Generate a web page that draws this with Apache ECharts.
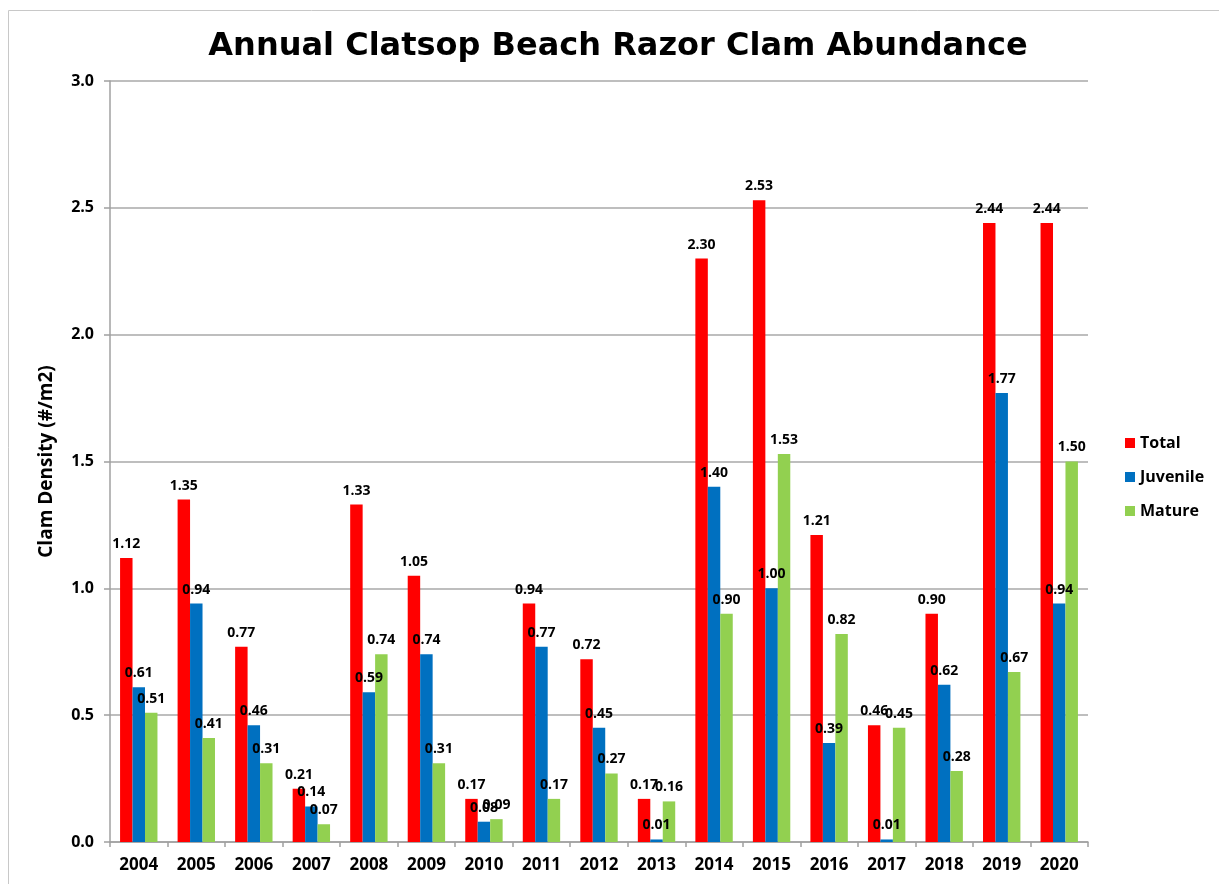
<!DOCTYPE html>
<html lang="en">
<head>
    <title>Annual Clatsop Beach Razor Clam Abundance</title>
    <meta charset="utf-8" />
    <script src="https://cdn.jsdelivr.net/npm/echarts@6/dist/echarts.min.js"></script>
    <style>
        html, body {
            margin: 0;
            padding: 0;
            background-color: #ffffff;
        }
        #main {
            width: 1219px;
            height: 884px;
        }
    </style>
</head>
<body>
<div id="main"></div>
<script>
    let years = ['2004', '2005', '2006', '2007', '2008', '2009', '2010', '2011', '2012',
        '2013', '2014', '2015', '2016', '2017', '2018', '2019', '2020']
    let total = [1.12, 1.35, 0.77, 0.21, 1.33, 1.05, 0.17, 0.94, 0.72, 0.17, 2.30, 2.53, 1.21, 0.46, 0.90, 2.44, 2.44]
    let juvenile = [0.61, 0.94, 0.46, 0.14, 0.59, 0.74, 0.08, 0.77, 0.45, 0.01, 1.40, 1.00, 0.39, 0.01, 0.62, 1.77, 0.94]
    let mature = [0.51, 0.41, 0.31, 0.07, 0.74, 0.31, 0.09, 0.17, 0.27, 0.16, 0.90, 1.53, 0.82, 0.45, 0.28, 0.67, 1.50]

    let titleFont = '"DejaVu Sans", Verdana, sans-serif'
    let textFont = '"Open Sans", "Noto Sans", sans-serif'

    let chart = echarts.init(document.getElementById('main'))

    function makeSeries(name, color, data) {
        return {
            name: name,
            type: 'bar',
            barGap: 0,
            barCategoryGap: '35%',
            itemStyle: {
                color: color
            },
            label: {
                show: true,
                position: 'top',
                distance: 7,
                fontFamily: textFont,
                fontWeight: 'bold',
                fontSize: 14,
                color: '#000',
                formatter: function (p) {
                    return p.value.toFixed(2)
                }
            },
            data: data
        }
    }

    chart.setOption({
        animation: false,
        textStyle: {
            fontFamily: textFont
        },
        graphic: [
            {
                type: 'rect',
                shape: { x: 8.5, y: 10.5, width: 1230, height: 900 },
                style: { fill: 'none', stroke: '#c8c8c8', lineWidth: 1 },
                silent: true
            }
        ],
        title: {
            text: 'Annual Clatsop Beach Razor Clam Abundance',
            left: 613,
            textAlign: 'center',
            top: 26,
            textStyle: {
                fontFamily: titleFont,
                fontWeight: 'bold',
                fontSize: 32,
                color: '#000'
            }
        },
        legend: {
            orient: 'vertical',
            left: 1120,
            top: 429,
            itemWidth: 10,
            itemHeight: 10,
            itemGap: 16,
            itemStyle: {
                borderWidth: 0
            },
            icon: 'rect',
            textStyle: {
                fontFamily: textFont,
                fontWeight: 'bold',
                fontSize: 16,
                lineHeight: 18,
                color: '#000'
            },
            data: ['Total', 'Juvenile', 'Mature']
        },
        grid: {
            left: 110,
            right: 131,
            top: 81,
            bottom: 42,
            containLabel: false
        },
        xAxis: {
            type: 'category',
            data: years,
            axisLine: {
                lineStyle: { color: '#a0a0a0', width: 1.5 }
            },
            axisTick: {
                show: true,
                length: 5,
                lineStyle: { color: '#a0a0a0', width: 1.5 }
            },
            axisLabel: {
                margin: 15,
                fontFamily: textFont,
                fontWeight: 'bold',
                fontSize: 17,
                color: '#000'
            }
        },
        yAxis: {
            type: 'value',
            min: 0,
            max: 3,
            interval: 0.5,
            name: 'Clam Density (#/m2)',
            nameLocation: 'middle',
            nameGap: 54,
            nameTextStyle: {
                fontFamily: textFont,
                fontWeight: 'bold',
                fontSize: 19,
                color: '#000'
            },
            axisLine: {
                show: true,
                lineStyle: { color: '#a0a0a0', width: 1.5 }
            },
            axisTick: {
                show: true,
                length: 6,
                lineStyle: { color: '#a0a0a0', width: 1.5 }
            },
            axisLabel: {
                margin: 16,
                fontFamily: textFont,
                fontWeight: 'bold',
                fontSize: 16,
                color: '#000',
                formatter: function (v) {
                    return v.toFixed(1)
                }
            },
            splitLine: {
                lineStyle: { color: '#a8a8a8', width: 1.5 }
            }
        },
        series: [
            makeSeries('Total', '#ff0000', total),
            makeSeries('Juvenile', '#0070c0', juvenile),
            makeSeries('Mature', '#92d050', mature)
        ]
    })
</script>
</body>
</html>
